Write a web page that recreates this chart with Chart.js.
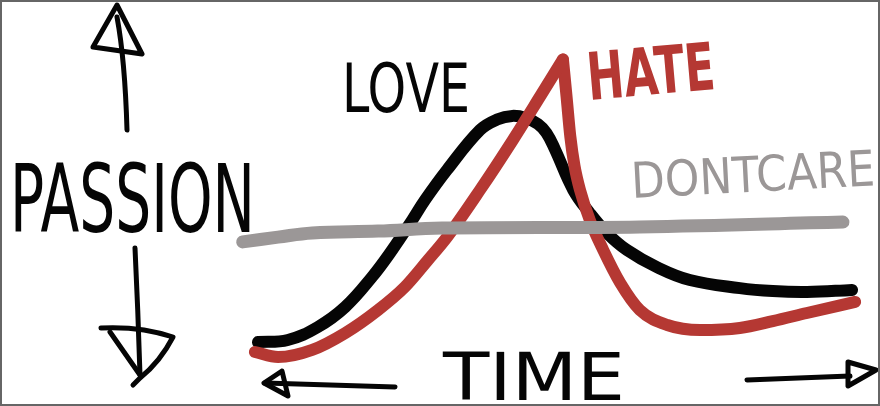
<!DOCTYPE html>
<html>
<head>
<meta charset="utf-8">
<script src="https://cdn.jsdelivr.net/npm/chart.js@4.4.1/dist/chart.umd.min.js"></script>
<style>
  html, body { margin: 0; padding: 0; background: #fff; overflow: hidden; }
  #wrap { width: 880px; height: 406px; position: relative; }
</style>
</head>
<body>
<div id="wrap"><canvas id="sketch" width="880" height="406"></canvas></div>
<script>
// time runs 0..10 left to right, passion 0..10 bottom to top
const loveTime = [0.13, 0.62, 1.11, 1.56, 2.0, 2.33, 2.66, 2.87, 3.23, 3.77, 4.05, 4.3, 4.52, 4.72, 4.86, 5.0, 5.3, 5.57, 5.85, 6.18, 6.67, 7.21, 8.03, 8.57, 9.13, 9.87];
const lovePassion = [0.43, 0.5, 0.93, 1.6, 2.6, 3.5, 4.5, 5.17, 6.17, 7.5, 7.85, 7.97, 7.9, 7.7, 7.4, 6.85, 5.5, 4.73, 4.07, 3.5, 2.93, 2.5, 2.23, 2.13, 2.1, 2.17];

// hate climbs to a sharp peak, then drops: two pieces so the tip stays pointed
const hateRiseTime = [0.08, 0.46, 1.02, 1.56, 2.1, 2.54, 2.92, 3.23, 3.77, 4.31, 4.75, 5.13];
const hateRisePassion = [0.1, -0.07, 0.17, 0.73, 1.5, 2.27, 3.17, 3.93, 5.5, 7.17, 8.6, 9.85];
const hateFallTime = [5.13, 5.19, 5.25, 5.32, 5.41, 5.57, 5.79, 6.07, 6.39, 6.84, 7.38, 8.03, 8.57, 9.13, 9.92];
const hateFallPassion = [9.85, 8.6, 7.3, 6.3, 5.5, 4.5, 3.5, 2.4, 1.5, 1.0, 0.83, 0.9, 1.13, 1.4, 1.77];

const dontCareTime = [-0.12, 0.46, 1.02, 2.1, 3.15, 6.39, 9.72];
const dontCarePassion = [3.77, 3.93, 4.07, 4.13, 4.23, 4.27, 4.43];

const BLACK = '#050505';
const RED = '#b53833';
const GRAY = '#9b9797';

function pts(xs, ys) {
    return xs.map((x, i) => ({ x: x, y: ys[i] }));
}

function line(label, xs, ys, color, width, order, mode) {
    return {
        label: label,
        data: pts(xs, ys),
        borderColor: color,
        borderWidth: width,
        borderCapStyle: 'round',
        borderJoinStyle: 'round',
        cubicInterpolationMode: mode,
        tension: 0.4,
        pointRadius: 0,
        fill: false,
        clip: false,
        order: order
    };
}

// cap height of DejaVu Sans is ~0.73em, squeeze text into its box
function word(ctx, text, x, top, w, h, color, weight, angle) {
    const size = h / 0.73;
    ctx.save();
    ctx.font = `${weight} ${size}px "DejaVu Sans"`;
    ctx.fillStyle = color;
    ctx.textBaseline = 'alphabetic';
    const mw = ctx.measureText(text).width;
    ctx.translate(x, top + h);
    ctx.rotate((angle || 0) * Math.PI / 180);
    ctx.scale(w / mw, 1);
    ctx.fillText(text, 0, 0);
    ctx.restore();
}

function stroke(ctx, fn) {
    ctx.beginPath();
    fn();
    ctx.stroke();
}

const sketchPlugin = {
    id: 'sketch',
    beforeDraw(chart) {
        const ctx = chart.ctx;
        ctx.save();
        ctx.fillStyle = '#fff';
        ctx.fillRect(0, 0, chart.width, chart.height);
        ctx.strokeStyle = BLACK;
        ctx.lineWidth = 5;
        ctx.lineCap = 'round';
        ctx.lineJoin = 'round';

        // up arrow
        stroke(ctx, () => { ctx.moveTo(127, 130); ctx.quadraticCurveTo(125, 60, 117, 17); });
        stroke(ctx, () => { ctx.moveTo(93, 47); ctx.lineTo(117, 5); ctx.lineTo(142, 54); ctx.closePath(); });
        // down arrow
        stroke(ctx, () => { ctx.moveTo(135, 248); ctx.quadraticCurveTo(138, 310, 140, 375); });
        stroke(ctx, () => { ctx.moveTo(101, 328); ctx.quadraticCurveTo(140, 326, 173, 337); ctx.quadraticCurveTo(160, 362, 140, 378); ctx.lineTo(133, 385); });
        stroke(ctx, () => { ctx.moveTo(110, 332); ctx.lineTo(140, 375); });
        // left arrow
        stroke(ctx, () => { ctx.moveTo(395, 387); ctx.lineTo(265, 383); });
        stroke(ctx, () => { ctx.moveTo(282, 371); ctx.lineTo(264, 383); ctx.lineTo(288, 396); ctx.closePath(); });
        // right arrow
        stroke(ctx, () => { ctx.moveTo(747, 380); ctx.lineTo(850, 376); });
        stroke(ctx, () => { ctx.moveTo(848, 362); ctx.lineTo(876, 370); ctx.lineTo(848, 386); ctx.closePath(); });

        word(ctx, 'PASSION', 10, 163, 245, 69, BLACK, 'normal', 0);
        word(ctx, 'LOVE', 342, 63, 128, 49, BLACK, 'normal', 0);
        word(ctx, 'HATE', 589, 52, 128, 48, RED, 'bold', -5);
        word(ctx, 'DONTCARE', 632, 162, 244, 36, GRAY, 'normal', -3);
        word(ctx, 'TIME', 443, 352, 182, 48, BLACK, 'normal', 0);
        ctx.restore();
    },
    afterDraw(chart) {
        const ctx = chart.ctx;
        ctx.save();
        ctx.strokeStyle = '#666';
        ctx.lineWidth = 2;
        ctx.strokeRect(1, 1, chart.width - 2, chart.height - 2);
        ctx.restore();
    }
};

new Chart(document.getElementById('sketch'), {
    type: 'line',
    data: {
        datasets: [
            line('Dont care', dontCareTime, dontCarePassion, GRAY, 13, 0, 'default'),
            line('Hate', hateRiseTime, hateRisePassion, RED, 12, 1, 'monotone'),
            line('Hate', hateFallTime, hateFallPassion, RED, 12, 1, 'monotone'),
            line('Love', loveTime, lovePassion, BLACK, 12, 2, 'default')
        ]
    },
    options: {
        responsive: false,
        animation: false,
        devicePixelRatio: 1,
        layout: { padding: { left: 250, right: 20, top: 55, bottom: 51 } },
        plugins: {
            legend: { display: false },
            tooltip: { enabled: false }
        },
        scales: {
            x: { type: 'linear', min: 0, max: 10, display: false },
            y: { min: 0, max: 10, display: false }
        }
    },
    plugins: [sketchPlugin]
});
</script>
</body>
</html>
